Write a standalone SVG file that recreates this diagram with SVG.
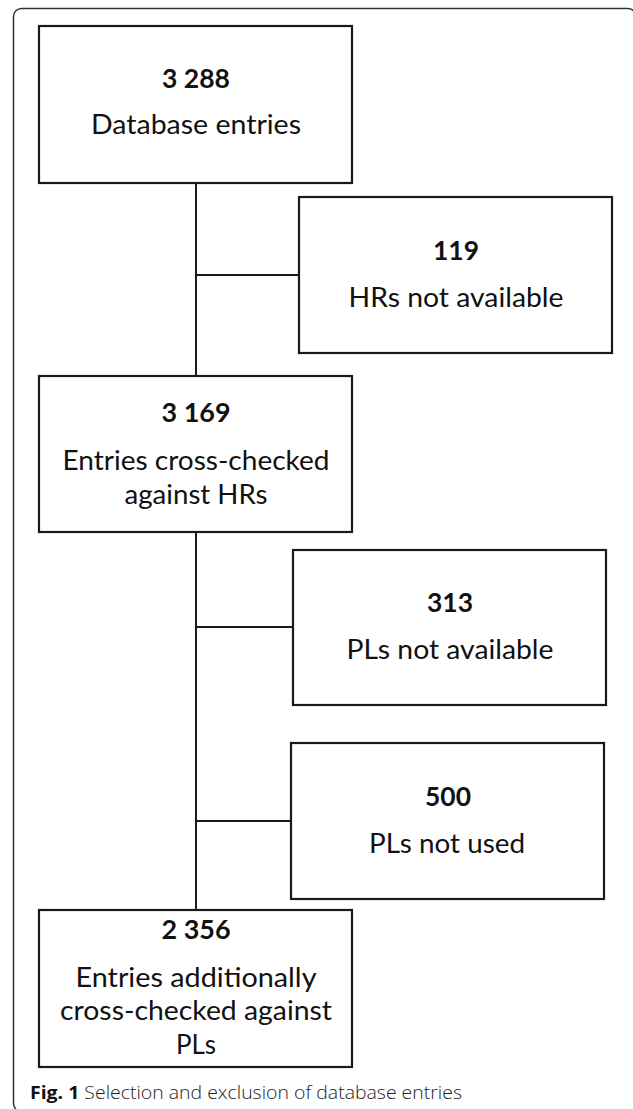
<svg xmlns="http://www.w3.org/2000/svg" width="633" height="1109" viewBox="0 0 633 1109">
<style>
.box{fill:#fff;stroke:#1a1a1a;stroke-width:2.2}
.ln{stroke:#1a1a1a;stroke-width:2;fill:none}
.num{font-family:Lato,"Liberation Sans",sans-serif;font-size:27px;font-weight:bold;fill:#111;text-anchor:middle}
.lbl{font-family:Lato,"Liberation Sans",sans-serif;font-size:27px;fill:#111;text-anchor:middle}
.cap{font-family:"Open Sans","Liberation Sans",sans-serif;font-size:18px;font-weight:300;fill:#222}
</style>
<rect x="13.5" y="8.5" width="622.5" height="1103" rx="8" ry="8" fill="#fff" stroke="#333" stroke-width="1.5"/>
<g id="connectors">
<line class="ln" x1="196" y1="183" x2="196" y2="910"/>
<line class="ln" x1="196" y1="275" x2="299" y2="275"/>
<line class="ln" x1="196" y1="627" x2="293" y2="627"/>
<line class="ln" x1="196" y1="821" x2="291" y2="821"/>
</g>
<g id="n1">
<rect class="box" x="39" y="26" width="313" height="157"/>
<text class="num" x="196" y="88" textLength="68" lengthAdjust="spacingAndGlyphs">3 288</text>
<text class="lbl" x="196" y="134" textLength="210" lengthAdjust="spacingAndGlyphs">Database entries</text>
</g>
<g id="n2">
<rect class="box" x="299" y="197" width="313" height="156"/>
<text class="num" x="456" y="260" textLength="46" lengthAdjust="spacingAndGlyphs">119</text>
<text class="lbl" x="456" y="307" textLength="215" lengthAdjust="spacingAndGlyphs">HRs not available</text>
</g>
<g id="n3">
<rect class="box" x="39" y="376" width="313" height="156"/>
<text class="num" x="196" y="422" textLength="69" lengthAdjust="spacingAndGlyphs">3 169</text>
<text class="lbl" x="196" y="470" textLength="267" lengthAdjust="spacingAndGlyphs">Entries cross-checked</text>
<text class="lbl" x="196" y="504" textLength="143" lengthAdjust="spacingAndGlyphs">against HRs</text>
</g>
<g id="n4">
<rect class="box" x="293" y="550" width="313" height="155"/>
<text class="num" x="450" y="612" textLength="46" lengthAdjust="spacingAndGlyphs">313</text>
<text class="lbl" x="450" y="659" textLength="207" lengthAdjust="spacingAndGlyphs">PLs not available</text>
</g>
<g id="n5">
<rect class="box" x="291" y="743" width="313" height="156"/>
<text class="num" x="448" y="806" textLength="46" lengthAdjust="spacingAndGlyphs">500</text>
<text class="lbl" x="447" y="853" textLength="156" lengthAdjust="spacingAndGlyphs">PLs not used</text>
</g>
<g id="n6">
<rect class="box" x="39" y="910" width="313" height="157"/>
<text class="num" x="196" y="939" textLength="69" lengthAdjust="spacingAndGlyphs">2 356</text>
<text class="lbl" x="196" y="987" textLength="241" lengthAdjust="spacingAndGlyphs">Entries additionally</text>
<text class="lbl" x="196" y="1020" textLength="272" lengthAdjust="spacingAndGlyphs">cross-checked against</text>
<text class="lbl" x="196" y="1054" textLength="40" lengthAdjust="spacingAndGlyphs">PLs</text>
</g>
<g id="caption">
<text class="cap" x="30" y="1099" textLength="432" lengthAdjust="spacingAndGlyphs"><tspan font-weight="bold" fill="#111">Fig. 1</tspan> Selection and exclusion of database entries</text>
</g>
</svg>
